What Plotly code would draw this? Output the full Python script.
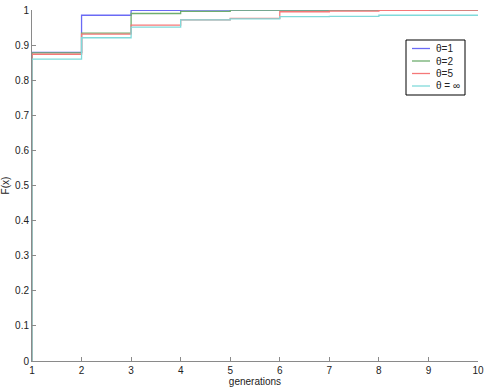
import plotly.graph_objects as go

# generations (step edges) and CDF values per generation
generations = [1, 2, 3, 4, 5, 6, 7, 8, 9, 10]
labels = ['θ=1', 'θ=2', 'θ=5', 'θ = ∞']
f_theta1 = [0.879, 0.985, 0.999, 1.000, 1.000, 1.000, 1.000, 1.000, 1.000]
f_theta2 = [0.878, 0.934, 0.990, 0.996, 1.000, 1.000, 1.000, 1.000, 1.000]
f_theta5 = [0.874, 0.931, 0.957, 0.972, 0.976, 0.995, 0.997, 0.999, 1.000]
f_thetainf = [0.860, 0.921, 0.951, 0.972, 0.975, 0.981, 0.982, 0.985, 0.985]
y_ticks = [0, 0.1, 0.2, 0.3, 0.4, 0.5, 0.6, 0.7, 0.8, 0.9, 1]

series = [f_theta1, f_theta2, f_theta5, f_thetainf]
colors = ['#6a6af5', '#6fae6f', '#f57878', '#80dada']

W, H = 488, 388
L, R, T, B = 32, 10, 10, 27
FONT = 'Liberation Sans, Arial, sans-serif'

fig = go.Figure()

for name, vals, c in zip(labels, series, colors):
    # stairs: start at 0 on x=1, hold last value until x=10
    xs = [generations[0]] + generations
    ys = [0] + vals + [vals[-1]]
    fig.add_trace(go.Scatter(
        x=xs, y=ys, mode='lines', name=name,
        line=dict(color=c, width=1.3, shape='hv'),
        showlegend=False,
    ))


# legend drawn by hand (MATLAB-like compact box)
def px(x):
    return (x - L) / (W - L - R)


def py(y):
    return (H - B - y) / (H - T - B)


shapes = [dict(type='rect', xref='paper', yref='paper',
               x0=px(406), x1=px(465), y0=py(95), y1=py(40),
               line=dict(color='black', width=1), fillcolor='white')]
annotations = []
rows = [48.5, 61, 73.5, 86]
for name, c, ry in zip(labels, colors, rows):
    shapes.append(dict(type='line', xref='paper', yref='paper',
                       x0=px(412), x1=px(430), y0=py(ry), y1=py(ry),
                       line=dict(color=c, width=1.3)))
    annotations.append(dict(xref='paper', yref='paper', x=px(434), y=py(ry),
                            text=name, showarrow=False, xanchor='left',
                            yanchor='middle', font=dict(size=10, color='#222')))

fig.update_layout(
    width=W, height=H,
    margin=dict(l=L, r=R, t=T, b=B),
    paper_bgcolor='white', plot_bgcolor='white',
    font=dict(family=FONT, size=10, color='#222'),
    shapes=shapes, annotations=annotations,
    xaxis=dict(
        range=[1, 10], tickvals=generations, showgrid=False, zeroline=False,
        showline=True, linecolor='#8a8a8a', linewidth=1, automargin=False,
        ticks='inside', ticklen=4, tickcolor='#8a8a8a',
        title=dict(text='generations', standoff=2, font=dict(size=10)),
    ),
    yaxis=dict(
        range=[0, 1], tickvals=y_ticks, showgrid=False, zeroline=False,
        showline=True, linecolor='#8a8a8a', linewidth=1, automargin=False,
        ticks='inside', ticklen=4, tickcolor='#8a8a8a',
        title=dict(text='F(x)', standoff=4, font=dict(size=10)),
    ),
)

# page body margin would push the figure off the window
fig.write_html('out.html', config={'displayModeBar': False},
               post_script="document.body.style.margin='0px';")
